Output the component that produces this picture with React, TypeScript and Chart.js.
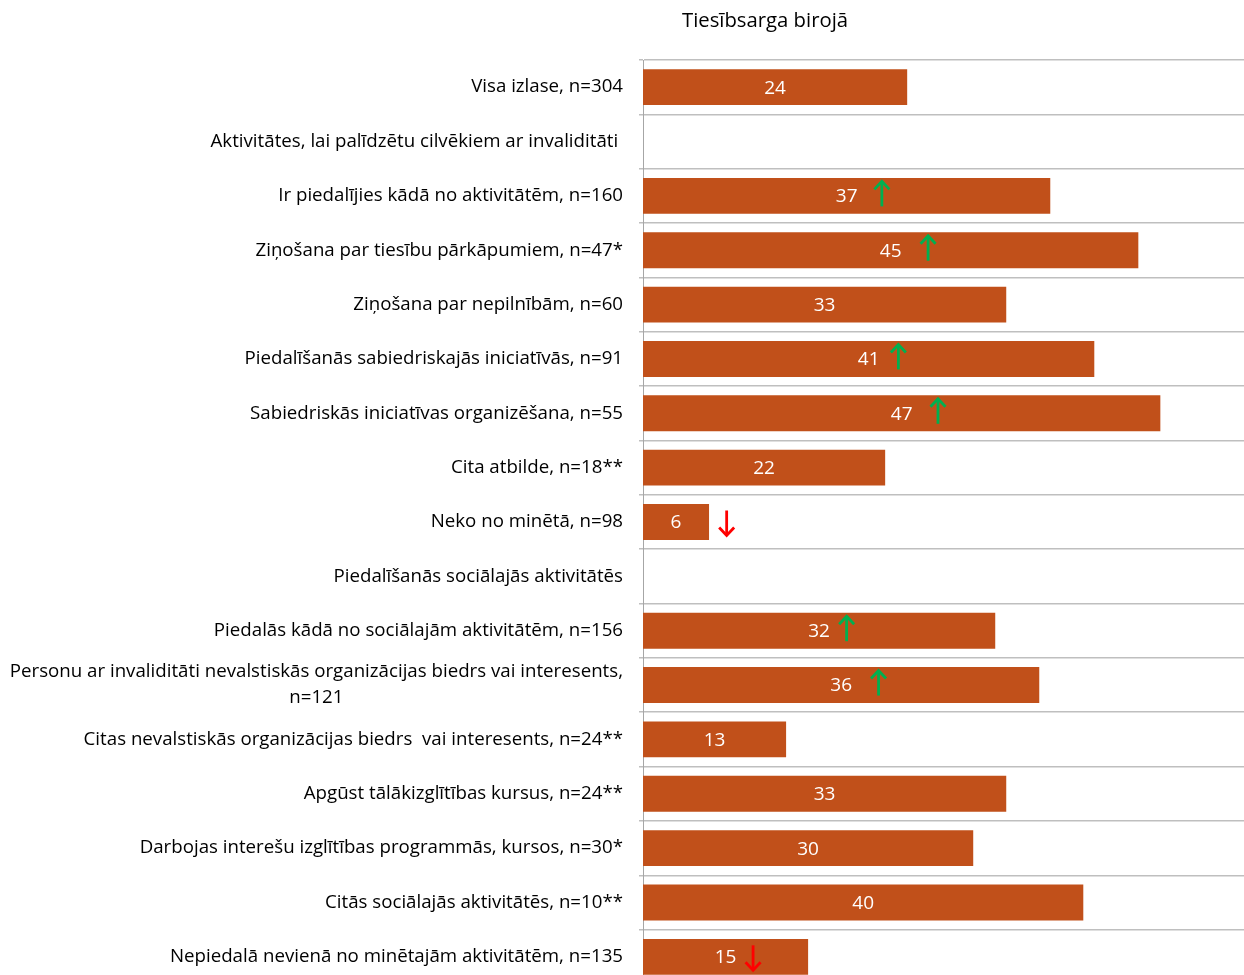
import React, { useEffect, useRef } from "react";
import { Chart, registerables } from "chart.js";

Chart.register(...registerables);

const categories: (string | string[])[] = [
  "Visa izlase, n=304",
  "Aktivitātes, lai palīdzētu cilvēkiem ar invaliditāti ",
  "Ir piedalījies kādā no aktivitātēm, n=160",
  "Ziņošana par tiesību pārkāpumiem, n=47*",
  "Ziņošana par nepilnībām, n=60",
  "Piedalīšanās sabiedriskajās iniciatīvās, n=91",
  "Sabiedriskās iniciatīvas organizēšana, n=55",
  "Cita atbilde, n=18**",
  "Neko no minētā, n=98",
  "Piedalīšanās sociālajās aktivitātēs",
  "Piedalās kādā no sociālajām aktivitātēm, n=156",
  ["Personu ar invaliditāti nevalstiskās organizācijas biedrs vai interesents,", "n=121"],
  "Citas nevalstiskās organizācijas biedrs  vai interesents, n=24**",
  "Apgūst tālākizglītības kursus, n=24**",
  "Darbojas interešu izglītības programmās, kursos, n=30*",
  "Citās sociālajās aktivitātēs, n=10**",
  "Nepiedalā nevienā no minētajām aktivitātēm, n=135",
];

const values: (number | null)[] = [24, null, 37, 45, 33, 41, 47, 22, 6, null, 32, 36, 13, 33, 30, 40, 15];

// significance arrows: direction and horizontal position (in value units)
const arrowDir: (string | null)[] = [null, null, "up", "up", null, "up", "up", null, "down", null, "up", "up", null, null, null, null, "down"];
const arrowAt: (number | null)[] = [null, null, 21.7, 25.9, null, 23.2, 26.8, null, 7.6, null, 18.5, 21.4, null, null, null, null, 10.0];

const chartTitle = "Tiesībsarga birojā";
const xMax = 54.6;

const FONT = '"Open Sans", "Noto Sans", sans-serif';
const LABEL_SIZE = 18.7;
const VALUE_SIZE = 19;

const drawPlugin = {
  id: "customDraw",
  afterDatasetsDraw(chart: any) {
    const ctx = chart.ctx;
    const yScale = chart.scales.y;
    const xScale = chart.scales.x;
    const meta = chart.getDatasetMeta(0);
    ctx.save();
    // category labels
    ctx.fillStyle = "#000000";
    ctx.font = `${LABEL_SIZE}px ${FONT}`;
    ctx.textBaseline = "middle";
    const right = yScale.right - 20;
    const lineH = 26;
    categories.forEach((lab, i) => {
      const yc = yScale.getPixelForValue(i);
      const lines = Array.isArray(lab) ? lab : [lab];
      if (lines.length === 1) {
        ctx.textAlign = "right";
        ctx.fillText(lines[0], right, yc);
      } else {
        const maxW = Math.max(...lines.map((l) => ctx.measureText(l).width));
        const cx = right - maxW / 2;
        ctx.textAlign = "center";
        lines.forEach((l, k) => {
          ctx.fillText(l, cx, yc + (k - (lines.length - 1) / 2) * lineH);
        });
      }
    });
    // value labels
    ctx.fillStyle = "#FFFFFF";
    ctx.font = `${VALUE_SIZE}px ${FONT}`;
    ctx.textAlign = "center";
    meta.data.forEach((el: any, i: number) => {
      const v = values[i];
      if (v === null || v === undefined) return;
      const p = el.getProps(["x", "y", "base"], true);
      ctx.fillText(String(v), (p.x + p.base) / 2, p.y + 1);
    });
    // arrows
    arrowDir.forEach((d, i) => {
      if (!d || arrowAt[i] === null) return;
      const ax = xScale.getPixelForValue(arrowAt[i] as number);
      const yc = yScale.getPixelForValue(i) + (d === "up" ? -2 : 1);
      const color = d === "up" ? "#00B050" : "#FF0000";
      const top = yc - 13.5;
      const bot = yc + 13.5;
      ctx.strokeStyle = color;
      ctx.lineWidth = 2.8;
      ctx.lineCap = "butt";
      ctx.lineJoin = "miter";
      ctx.beginPath();
      ctx.moveTo(ax, top + 1);
      ctx.lineTo(ax, bot - 1);
      ctx.stroke();
      ctx.beginPath();
      if (d === "up") {
        ctx.moveTo(ax - 7.5, top + 9);
        ctx.lineTo(ax, top + 1);
        ctx.lineTo(ax + 7.5, top + 9);
      } else {
        ctx.moveTo(ax - 7.5, bot - 9);
        ctx.lineTo(ax, bot - 1);
        ctx.lineTo(ax + 7.5, bot - 9);
      }
      ctx.stroke();
    });
    ctx.restore();
  },
};

export default function App() {
  const ref = useRef<HTMLCanvasElement | null>(null);
  useEffect(() => {
    if (!ref.current) return;
    const chart = new Chart(ref.current, {
      type: "bar",
      data: {
        labels: categories.map((c) => (Array.isArray(c) ? c.join(" ") : c)),
        datasets: [
          {
            data: values as any,
            backgroundColor: "#C1501A",
            borderWidth: 0,
            categoryPercentage: 1,
            barPercentage: 0.66,
          },
        ],
      },
      options: {
        indexAxis: "y",
        responsive: false,
        animation: false,
        layout: { padding: { top: 60, bottom: 1, left: 0, right: 0 } },
        plugins: { legend: { display: false }, tooltip: { enabled: false }, title: { display: false } },
        scales: {
          x: { display: false, min: 0, max: xMax },
          y: {
            type: "category",
            offset: true,
            ticks: { display: false },
            grid: { display: true, offset: true, color: "#BFBFBF", lineWidth: 1.5, tickLength: 4 },
            border: { display: true, color: "#A6A6A6", width: 1 },
            afterFit: (scale: any) => {
              scale.width = 643;
            },
          },
        },
      },
      plugins: [drawPlugin],
    });
    return () => chart.destroy();
  }, []);
  return (
    <div style={{ position: "fixed", left: 0, top: 0, width: 1244, height: 975, overflow: "hidden", background: "#fff" }}>
      <div
        style={{
          position: "absolute",
          left: 615,
          width: 300,
          top: 5,
          textAlign: "center",
          fontFamily: FONT,
          fontSize: 20.3,
          color: "#000",
        }}
      >
        {chartTitle}
      </div>
      <canvas ref={ref} width={1244} height={985} style={{ display: "block" }} />
    </div>
  );
}
